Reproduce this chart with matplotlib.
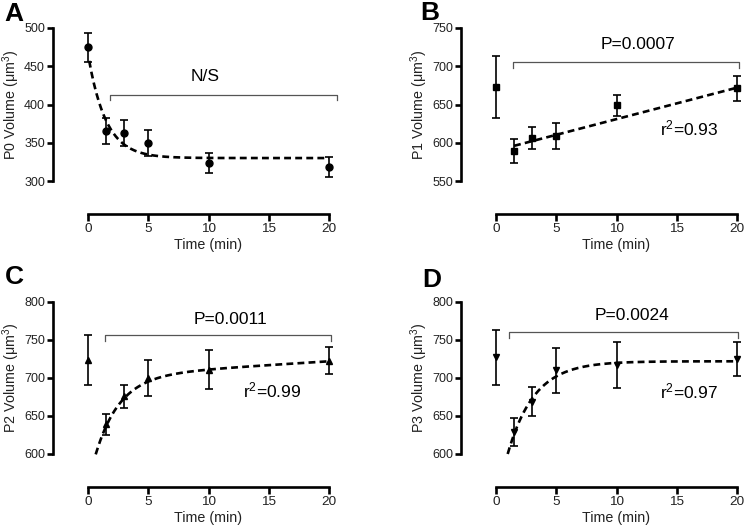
import numpy as np
import matplotlib
matplotlib.use("Agg")
import matplotlib.pyplot as plt

plt.rcParams['font.family'] = ['Liberation Sans', 'DejaVu Sans']
plt.rcParams['mathtext.fontset'] = 'custom'
plt.rcParams['mathtext.rm'] = 'Liberation Sans'
plt.rcParams['mathtext.it'] = 'Liberation Sans:italic'

time = [0, 1.5, 3, 5, 10, 20]

p0_mean = [475, 365, 363, 350, 323, 318]
p0_err = [19, 17, 17, 17, 13, 13]

p1_mean = [673, 589, 606, 609, 649, 671]
p1_err = [40, 16, 14, 17, 14, 16]

p2_mean = [724, 639, 676, 700, 711, 723]
p2_err = [33, 14, 15, 24, 26, 18]

p3_mean = [727, 629, 669, 710, 717, 725]
p3_err = [36, 19, 19, 30, 30, 23]

# fitted curves (parameters)
a_plateau, a_span, a_k, a_start = 330, 136, 0.68, 0.1
b_intercept, b_slope, b_start = 589.8, 4.11, 1.5
c_plateau, c_span, c_k, c_lin, c_start = 702, 142, 0.5, 1.0, 0.64
d_y0, d_plateau, d_k, d_start = 600, 722, 0.45, 0.97

W, H = 745, 526
fig = plt.figure(figsize=(W / 100, H / 100), dpi=100)


def make_ax(x0, x1, ytop, ybot):
    return fig.add_axes([x0 / W, 1 - ybot / H, (x1 - x0) / W, (ybot - ytop) / H])


axA = make_ax(88, 329, 28, 181)
axB = make_ax(496, 737, 28, 181)
axC = make_ax(88, 329, 302, 454)
axD = make_ax(496, 737, 302, 454)


def style(ax, ylo, yhi, ylab):
    ax.set_xlim(0, 20)
    ax.set_ylim(ylo, yhi)
    ax.set_xticks([0, 5, 10, 15, 20])
    ax.set_yticks(np.arange(ylo, yhi + 1, 50))
    for s in ['top', 'right']:
        ax.spines[s].set_visible(False)
    ax.spines['left'].set_position(('outward', 25))
    ax.spines['bottom'].set_position(('outward', 24))
    for s in ['left', 'bottom']:
        ax.spines[s].set_linewidth(1.9)
    ax.tick_params(width=1.9, length=4.5, colors='black',
                   labelcolor='#222222', pad=1.5)
    ax.tick_params(axis='y', labelsize=9)
    ax.tick_params(axis='x', labelsize=9.7, length=5)
    ax.patch.set_visible(False)
    ax.set_xlabel('Time (min)', fontsize=10.3, color='#222222', labelpad=2)
    ax.set_ylabel(ylab, fontsize=10.3, color='#222222')
    ax.yaxis.set_label_coords(-0.272, 0.5)


def points(ax, mean, err, marker, ms):
    ax.errorbar(time, mean, yerr=err, fmt=marker, color='black', ms=ms,
                elinewidth=1.2, capsize=3.2, capthick=1.2, clip_on=False, zorder=3)


def bracket(ax, x0, x1, y, drop, text, tx, ty):
    ax.plot([x0, x0, x1, x1], [y - drop, y, y, y - drop], color='#555555',
            lw=0.9, clip_on=False)
    ax.text(tx, ty, text, ha='center', va='center', fontsize=12.5)


dash = dict(color='black', lw=1.9, dashes=(2.6, 1.6), clip_on=False, zorder=2)

# A
style(axA, 300, 500, 'P0 Volume (μm$^3$)')
points(axA, p0_mean, p0_err, 'o', 5)
xa = np.linspace(a_start, 20, 300)
axA.plot(xa, a_plateau + a_span * np.exp(-a_k * xa), **dash)
bracket(axA, 1.8, 20.7, 413, 7, 'N/S', 9.7, 437)

# B
style(axB, 550, 750, 'P1 Volume (μm$^3$)')
points(axB, p1_mean, p1_err, 's', 5)
xb = np.linspace(b_start, 20, 50)
axB.plot(xb, b_intercept + b_slope * xb, **dash)
bracket(axB, 1.44, 20.2, 706, 8, 'P=0.0007', 11.8, 729)
axB.text(13.6, 619, 'r$^2$=0.93', ha='left', va='center', fontsize=12.5)

# C
style(axC, 600, 800, 'P2 Volume (μm$^3$)')
points(axC, p2_mean, p2_err, '^', 4.5)
xc = np.linspace(c_start, 20, 300)
axC.plot(xc, c_plateau - c_span * np.exp(-c_k * xc) + c_lin * xc, **dash)
bracket(axC, 1.4, 20.2, 757, 8, 'P=0.0011', 11.8, 777)
axC.text(12.9, 683, 'r$^2$=0.99', ha='left', va='center', fontsize=12.5)

# D
style(axD, 600, 800, 'P3 Volume (μm$^3$)')
points(axD, p3_mean, p3_err, 'v', 4.5)
xd = np.linspace(d_start, 20, 300)
axD.plot(xd, d_y0 + (d_plateau - d_y0) * (1 - np.exp(-d_k * (xd - d_start))), **dash)
bracket(axD, 1.1, 20.1, 761, 8, 'P=0.0024', 11.3, 782)
axD.text(13.6, 682, 'r$^2$=0.97', ha='left', va='center', fontsize=12.5)

# panel letters
for lab, x, y in [('A', 14, 14), ('B', 430, 13), ('C', 14, 277), ('D', 432, 280)]:
    fig.text(x / W, 1 - y / H, lab, fontsize=19, fontweight='bold',
             ha='center', va='center')

fig.savefig('out.png', dpi=100)
